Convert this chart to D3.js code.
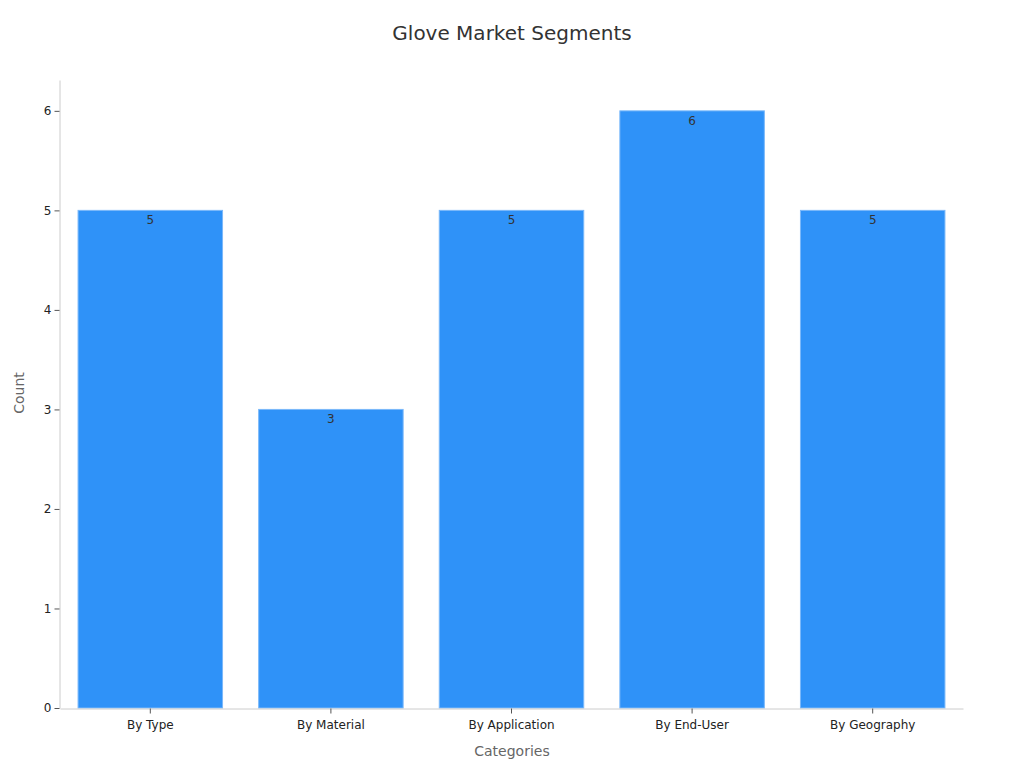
<!DOCTYPE html>
<html><head><meta charset="utf-8">
<script src="https://cdn.jsdelivr.net/npm/d3@7"></script>
<style>body{margin:0;background:#fff;font-family:"DejaVu Sans",sans-serif;}</style>
</head><body>
<svg id="c" width="1024" height="768"></svg>
<script>
const categories = ["By Type","By Material","By Application","By End-User","By Geography"];
const counts = [5,3,5,6,5];
const yTicks = [0,1,2,3,4,5,6];

const svg = d3.select("#c");
const m = {l:60, r:963, t:80, b:708};
const x = d3.scaleBand().domain(categories).range([m.l, m.r]).paddingInner(0.2).paddingOuter(0.1);
const y = d3.scaleLinear().domain([0, 6.31]).range([m.b, m.t]);

svg.append("text").attr("x",512).attr("y",40).attr("text-anchor","middle")
  .attr("font-size",20).attr("fill","#333").text("Glove Market Segments");

svg.selectAll("rect.bar").data(counts).join("rect").attr("class","bar")
  .attr("x",(d,i)=>x(categories[i])).attr("width",x.bandwidth())
  .attr("y",d=>y(d)).attr("height",d=>y(0)-y(d))
  .attr("fill","#2f92f8").attr("stroke","#7ab8fa").attr("stroke-width",1);

svg.selectAll("text.lbl").data(counts).join("text").attr("class","lbl")
  .attr("x",(d,i)=>x(categories[i])+x.bandwidth()/2).attr("y",d=>y(d)+14)
  .attr("text-anchor","middle").attr("font-size",12).attr("fill","#333").text(d=>d);

const ya = svg.append("g").attr("transform",`translate(${m.l-0.5},0)`)
  .call(d3.axisLeft(y).tickValues(yTicks).tickFormat(d3.format("d")).tickSize(5).tickSizeOuter(0));
ya.select(".domain").attr("stroke","#ccc");
ya.selectAll(".tick line").attr("stroke","#555");
ya.selectAll(".tick text").attr("font-size",12).attr("fill","#222").attr("font-family","DejaVu Sans");

const xa = svg.append("g").attr("transform",`translate(0,${m.b+0.5})`)
  .call(d3.axisBottom(x).tickSize(5).tickSizeOuter(0));
xa.select(".domain").attr("stroke","#ccc");
xa.selectAll(".tick line").attr("stroke","#555");
xa.selectAll(".tick text").attr("font-size",12).attr("fill","#222").attr("font-family","DejaVu Sans").attr("dy","1.0em");

svg.append("text").attr("x",512).attr("y",756).attr("text-anchor","middle")
  .attr("font-size",14).attr("fill","#666").text("Categories");
svg.append("text").attr("transform","translate(24,393) rotate(-90)").attr("text-anchor","middle")
  .attr("font-size",14).attr("fill","#666").text("Count");
</script>
</body></html>
